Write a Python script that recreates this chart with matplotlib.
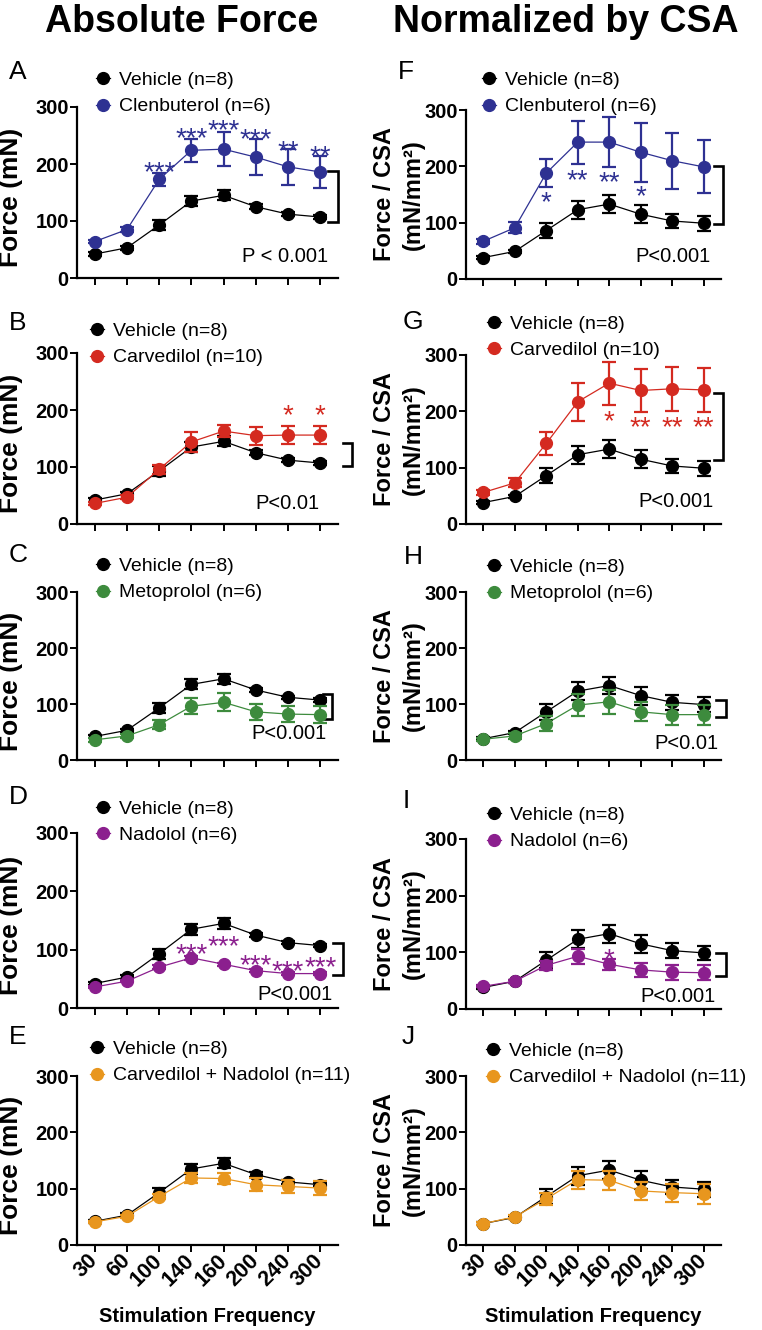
import matplotlib
matplotlib.use("Agg")
import matplotlib.pyplot as plt
from matplotlib.lines import Line2D

plt.rcParams['font.family'] = ['Liberation Sans', 'DejaVu Sans']

# ---------------- data ----------------
freq_labels = ['30', '60', '100', '140', '160', '200', '240', '300']

veh_abs = [42, 53, 93, 135, 145, 125, 112, 107]
veh_abs_err = [3, 3, 9, 9, 9, 4, 3, 3]
veh_csa = [38, 49, 86, 123, 133, 115, 103, 99]
veh_csa_err = [3, 3, 14, 16, 16, 16, 13, 13]

clen_abs = [64, 85, 173, 224, 226, 212, 195, 186]
clen_abs_err = [3, 4, 11, 20, 30, 32, 32, 28]
clen_csa = [67, 91, 188, 243, 243, 225, 210, 199]
clen_csa_err = [4, 10, 25, 38, 44, 52, 50, 47]

carv_abs = [36, 47, 96, 144, 163, 155, 156, 156]
carv_abs_err = [3, 4, 8, 17, 10, 16, 16, 16]
carv_csa = [56, 73, 143, 217, 250, 237, 240, 238]
carv_csa_err = [4, 8, 21, 34, 38, 38, 39, 39]

meto_abs = [36, 43, 63, 96, 103, 86, 82, 81]
meto_abs_err = [3, 4, 8, 14, 16, 14, 15, 15]
meto_csa = [37, 43, 65, 98, 104, 86, 81, 81]
meto_csa_err = [3, 6, 14, 20, 21, 17, 18, 18]

nado_abs = [36, 46, 70, 86, 75, 64, 59, 59]
nado_abs_err = [2, 2, 3, 3, 3, 3, 3, 3]
nado_csa = [40, 49, 77, 93, 79, 69, 65, 64]
nado_csa_err = [2, 3, 8, 13, 10, 12, 13, 13]

cn_abs = [41, 51, 86, 119, 118, 107, 104, 101]
cn_abs_err = [2, 3, 5, 9, 10, 12, 12, 12]
cn_csa = [38, 50, 82, 116, 115, 96, 93, 91]
cn_csa_err = [2, 3, 11, 16, 17, 16, 16, 18]

vehicle_label = 'Vehicle (n=8)'
treat_labels = ['Clenbuterol (n=6)', 'Carvedilol (n=10)', 'Metoprolol (n=6)',
                'Nadolol (n=6)', 'Carvedilol + Nadolol (n=11)']
treat_colors = ['#2e3192', '#d42a20', '#3d8b3d', '#8b1f8e', '#e8961e']

# significance stars: (index, text, y of star centre)
stars_A = [(2, '***', 200), (3, '***', 259), (4, '***', 273), (5, '***', 258), (6, '**', 237), (7, '**', 228)]
stars_F = [(2, '*', 150), (3, '**', 189), (4, '**', 185), (5, '*', 160)]
stars_B = [(6, '*', 204), (7, '*', 204)]
stars_G = [(4, '*', 196), (5, '**', 185), (6, '**', 185), (7, '**', 185)]
stars_D = [(3, '***', 106), (4, '***', 119), (5, '***', 86), (6, '***', 76), (7, '***', 84)]
stars_I = [(4, '*', 102)]

# ---------------- layout ----------------
W, H = 762, 1330
fig = plt.figure(figsize=(W / 100, H / 100), dpi=100)

def fx(px):
    return px / W

def fy(py):
    return 1 - py / H

left_x, left_w = 77, 261
right_x, right_w = 466, 255
rows_left = [(107, 278), (353, 524), (592, 760), (833, 1008), (1076, 1245)]
rows_right = [(110, 279), (355, 524), (592, 760), (839, 1009), (1076, 1245)]

panels = [
    # left column
    dict(letter='A', col=0, row=0, veh=veh_abs, veh_e=veh_abs_err, trt=clen_abs, trt_e=clen_abs_err, t=0,
         stars=stars_A, bracket=(187, 99, 7.25, 7.55), p=('P < 0.001', 0.962, 38),
         leg=(103, 78, 105), let=(18, 72)),
    dict(letter='B', col=0, row=1, veh=veh_abs, veh_e=veh_abs_err, trt=carv_abs, trt_e=carv_abs_err, t=1,
         stars=stars_B, bracket=(142, 101, 7.71, 7.99), p=('P<0.01', 0.93, 36),
         leg=(97, 330, 355), let=(18, 323)),
    dict(letter='C', col=0, row=2, veh=veh_abs, veh_e=veh_abs_err, trt=meto_abs, trt_e=meto_abs_err, t=2,
         stars=[], bracket=(117, 73, 7.09, 7.37), p=('P<0.001', 0.957, 47),
         leg=(103, 563, 592), let=(18, 555)),
    dict(letter='D', col=0, row=3, veh=veh_abs, veh_e=veh_abs_err, trt=nado_abs, trt_e=nado_abs_err, t=3,
         stars=stars_D, bracket=(111, 57, 7.4, 7.71), p=('P<0.001', 0.98, 23),
         leg=(103, 807, 833), let=(18, 797)),
    dict(letter='E', col=0, row=4, veh=veh_abs, veh_e=veh_abs_err, trt=cn_abs, trt_e=cn_abs_err, t=4,
         stars=[], bracket=None, p=None,
         leg=(97, 1048, 1073), let=(18, 1037)),
    # right column
    dict(letter='F', col=1, row=0, veh=veh_csa, veh_e=veh_csa_err, trt=clen_csa, trt_e=clen_csa_err, t=0,
         stars=stars_F, bracket=(200, 97, 7.32, 7.61), p=('P<0.001', 0.96, 40),
         leg=(489, 78, 105), let=(406, 72)),
    dict(letter='G', col=1, row=1, veh=veh_csa, veh_e=veh_csa_err, trt=carv_csa, trt_e=carv_csa_err, t=1,
         stars=stars_G, bracket=(232, 114, 7.32, 7.61), p=('P<0.001', 0.973, 40),
         leg=(494, 322, 348), let=(413, 322)),
    dict(letter='H', col=1, row=2, veh=veh_csa, veh_e=veh_csa_err, trt=meto_csa, trt_e=meto_csa_err, t=2,
         stars=[], bracket=(108, 76, 7.39, 7.7), p=('P<0.01', 0.99, 30),
         leg=(494, 567, 590), let=(413, 557)),
    dict(letter='I', col=1, row=3, veh=veh_csa, veh_e=veh_csa_err, trt=nado_csa, trt_e=nado_csa_err, t=3,
         stars=stars_I, bracket=(99, 59, 7.39, 7.7), p=('P<0.001', 0.98, 22),
         leg=(494, 813, 840), let=(406, 801)),
    dict(letter='J', col=1, row=4, veh=veh_csa, veh_e=veh_csa_err, trt=cn_csa, trt_e=cn_csa_err, t=4,
         stars=[], bracket=None, p=None,
         leg=(493, 1050, 1075), let=(408, 1037)),
]

x = list(range(len(freq_labels)))
star_fs = 20
ms = 8.5
for pn in panels:
    if pn['col'] == 0:
        top, bot = rows_left[pn['row']]
        ax = fig.add_axes([fx(left_x), fy(bot), fx(left_w), (bot - top) / H])
    else:
        top, bot = rows_right[pn['row']]
        ax = fig.add_axes([fx(right_x), fy(bot), fx(right_w), (bot - top) / H])
    c = treat_colors[pn['t']]
    ax.errorbar(x, pn['veh'], yerr=pn['veh_e'], color='black', lw=0.9, marker='o', ms=ms,
                elinewidth=1.6, capsize=5, capthick=1.6, zorder=3, clip_on=False)
    ax.errorbar(x, pn['trt'], yerr=pn['trt_e'], color=c, lw=0.9, marker='o', ms=ms,
                elinewidth=1.6, capsize=5, capthick=1.6, zorder=4, clip_on=False)
    ax.set_xlim(-0.55, 7.55)
    ax.set_ylim(0, 300)
    ax.set_yticks([0, 100, 200, 300])
    ax.set_xticks(x)
    for s in ['top', 'right']:
        ax.spines[s].set_visible(False)
    for s in ['left', 'bottom']:
        ax.spines[s].set_linewidth(1.6)
    ax.tick_params(axis='both', length=5, width=1.4, pad=1)
    for lab in ax.get_yticklabels():
        lab.set_fontweight('bold')
        lab.set_fontsize(14.5)
    if pn['row'] == 4:
        ax.set_xticklabels(freq_labels, rotation=45, ha='right', va='center',
                           rotation_mode='anchor', fontsize=15.5, fontweight='bold')
        ax.tick_params(axis='x', pad=4)
        ax.set_xlabel('Stimulation Frequency', fontsize=14.5, fontweight='bold', labelpad=12)
    else:
        ax.set_xticklabels([])

    if pn['col'] == 0:
        ax.set_ylabel('Force (mN)', fontsize=19, fontweight='bold')
        ax.yaxis.set_label_coords(-0.207, 0.47)
    else:
        ax.set_ylabel('Force / CSA\n(mN/mm²)', fontsize=17, fontweight='bold', linespacing=1.3)
        ax.yaxis.set_label_coords(-0.163, 0.5)

    for (i, s, yv) in pn['stars']:
        ax.annotate(s, (i, yv), xytext=(0, -0.57 * star_fs), textcoords='offset points',
                    ha='center', va='baseline', fontsize=star_fs, color=c, annotation_clip=False)

    if pn['bracket'] is not None:
        yt, yb, x0, x1 = pn['bracket']
        ax.plot([x0, x1, x1, x0], [yt, yt, yb, yb], color='black', lw=1.9, clip_on=False,
                solid_joinstyle='miter')
    if pn['p'] is not None:
        txt, xf, yv = pn['p']
        ax.text(xf, yv, txt, transform=ax.get_yaxis_transform(), ha='right', va='center', fontsize=14.5)

    # legend
    mx, r1, r2 = pn['leg']
    handles = [Line2D([], [], color='black', marker='o', ms=ms, lw=0.9),
               Line2D([], [], color=c, marker='o', ms=ms, lw=0.9)]
    ax.legend(handles, [vehicle_label, treat_labels[pn['t']]], loc='center left',
              bbox_to_anchor=(fx(mx - 7), fy((r1 + r2) / 2 + 2)), bbox_transform=fig.transFigure,
              frameon=False, fontsize=14, handlelength=0.7, handletextpad=0.5,
              labelspacing=0.45, borderpad=0, borderaxespad=0)
    lx, ly = pn['let']
    fig.text(fx(lx), fy(ly), pn['letter'], fontsize=19, ha='center', va='center')

fig.text(fx(182), fy(22), 'Absolute Force', fontsize=27, fontweight='bold', ha='center', va='center')
fig.text(fx(566), fy(22), 'Normalized by CSA', fontsize=27, fontweight='bold', ha='center', va='center')

fig.savefig('out.png', dpi=100)
